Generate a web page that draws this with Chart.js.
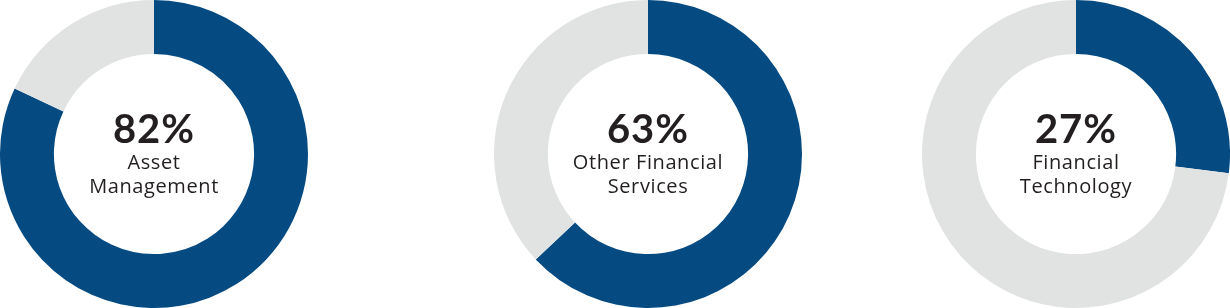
<!DOCTYPE html>
<html>
<head>
<meta charset="utf-8">
<script src="https://cdn.jsdelivr.net/npm/chart.js@4"></script>
<style>
  html, body { margin: 0; padding: 0; background: #fff; }
  body { width: 1230px; height: 308px; position: relative; overflow: hidden; }
  .ring { position: absolute; top: 0; width: 308px; height: 308px; }
</style>
</head>
<body>
<div class="ring" style="left:0px"><canvas id="c0"></canvas></div>
<div class="ring" style="left:494px"><canvas id="c1"></canvas></div>
<div class="ring" style="left:922px"><canvas id="c2"></canvas></div>
<script>
// data
let categories = ['Asset Management', 'Other Financial Services', 'Financial Technology'];
let labelLines = [['Asset', 'Management'], ['Other Financial', 'Services'], ['Financial', 'Technology']];
let shares = [82, 63, 27];

let blue = '#054b82';
let grey = '#e1e3e3';

// draws the big % and the label in the hole
let centerText = {
    id: 'centerText',
    afterDraw(chart) {
        let ctx = chart.ctx;
        let meta = chart.getDatasetMeta(0).data[0];
        let x = meta.x, y = meta.y;
        let i = chart.options.plugins.centerText.index;
        ctx.save();
        ctx.fillStyle = '#231f20';
        ctx.textAlign = 'center';
        ctx.textBaseline = 'alphabetic';
        ctx.letterSpacing = '1px';
        ctx.font = 'bold 40px Lato';
        ctx.fillText(shares[i] + '%', x, y - 11);
        ctx.font = '20px "Open Sans"';
        ctx.letterSpacing = '0.6px';
        labelLines[i].forEach((l, k) => {
            ctx.fillText(l, x, y + 15 + k * 24);
        });
        ctx.restore();
    }
};

shares.forEach((v, i) => {
    new Chart(document.getElementById('c' + i), {
        type: 'doughnut',
        data: {
            labels: [categories[i], 'Other'],
            datasets: [{
                data: [v, 100 - v],
                backgroundColor: [blue, grey],
                borderWidth: 0
            }]
        },
        options: {
            responsive: true,
            maintainAspectRatio: false,
            animation: false,
            cutout: '65%',
            layout: { padding: 0 },
            plugins: {
                legend: { display: false },
                tooltip: { enabled: false },
                centerText: { index: i }
            }
        },
        plugins: [centerText]
    });
});
</script>
</body>
</html>
